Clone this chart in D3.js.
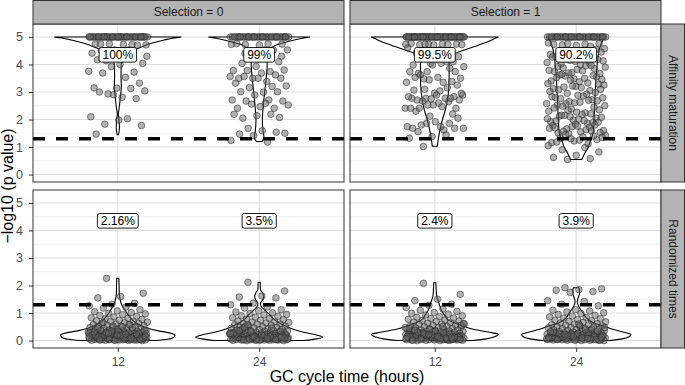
<!DOCTYPE html>
<html>
<head>
<meta charset="utf-8">
<script src="https://d3js.org/d3.v7.min.js"></script>
<style>
  body { margin: 0; background: #fff; }
  text { font-family: "Liberation Sans", Arial, Helvetica, sans-serif; }
</style>
</head>
<body>
<script>
// ---- data ----
const times = ["12", "24"];
const selections = ["Selection = 0", "Selection = 1"];
const rowNames = ["Affinity maturation", "Randomized times"];
const yTicks = [0, 1, 2, 3, 4, 5];
const cutoff = 1.30103;   // -log10(0.05)
const labelAt = 4.35;

// percent labels [selection][time]
const pctAffinity = [["100%", "99%"], ["99.5%", "90.2%"]];
const pctRandom = [["2.16%", "3.5%"], ["2.4%", "3.9%"]];

// -log10(p value), capped at 5
const am0_12 = [5,5,5,5,5,5,5,5,5,5,5,5,5,5,5,5,5,5,5,5,5,5,5,5,5,5,5,5,5,5,5,5,5,5,5,5,5,5,5,5,5,5,5,5,5,
  4.74,4.72,4.75,4.71,4.73,4.74,4.70,4.53,4.41,4.53,4.14,4.04,4.00,4.17,3.72,3.93,3.75,3.53,3.69,3.32,
  3.14,3.15,3.13,2.93,3.04,2.81,3.00,2.76,2.90,2.10,2.03,1.83,1.78,1.98,1.47,4.45,4.38,4.30,4.25,4.50];
const am0_24 = [5,5,5,5,5,5,5,5,5,5,5,5,5,5,5,5,5,5,5,5,5,5,5,5,5,5,5,5,5,5,5,5,5,5,5,5,5,5,5,5,
  4.73,4.75,4.72,4.74,4.71,4.76,4.53,4.41,4.53,4.53,4.04,4.10,3.93,3.78,3.74,3.78,3.80,3.69,3.50,3.62,
  3.50,3.56,3.38,3.56,3.50,3.50,3.32,3.20,3.16,3.22,2.99,3.01,3.01,2.89,2.71,2.71,2.67,2.67,2.47,2.41,
  2.41,2.56,2.53,2.59,2.05,2.07,2.14,2.19,2.19,1.68,1.50,1.59,1.47,1.54,1.42,1.24,1.18,4.40,4.30,4.20];
const am1_12 = [5,5,5,5,5,5,5,5,5,5,5,5,5,5,5,5,5,5,5,5,5,5,5,5,5,5,5,5,5,5,
  5,5,5,5,5,5,5,5,5,5,5,5,5,5,5,5,5,5,5,5,5,5,5,5,5,5,5,5,5,5,
  4.74,4.73,4.75,4.72,4.74,4.71,4.76,4.73,4.74,4.72,4.53,4.41,4.10,4.04,4.60,4.48,4.35,4.28,4.20,
  3.98,3.86,3.74,3.92,4.04,3.68,3.74,3.98,3.74,4.10,3.48,3.50,3.53,3.53,3.38,3.44,3.35,3.35,3.62,3.25,
  2.96,2.77,2.65,2.77,2.89,3.04,2.71,2.83,2.75,2.83,2.77,2.67,2.71,2.89,3.07,2.77,2.53,2.41,2.47,2.41,
  2.41,2.53,2.41,3.15,3.10,2.95,2.60,2.30,2.20,2.12,1.74,1.62,1.80,2.05,1.92,1.68,1.86,1.86,1.68,1.74,
  1.56,1.68,1.38,1.32,1.44,1.02];
const am1_24 = [5,5,5,5,5,5,5,5,5,5,5,5,5,5,5,5,5,5,5,5,5,5,5,5,5,5,5,5,5,5,5,5,5,5,5,5,5,5,5,5,
  4.78,4.74,4.71,4.76,4.69,4.73,4.66,4.75,4.58,4.52,4.47,4.55,4.41,4.36,4.50,4.33,4.45,4.39,
  4.28,4.22,4.15,4.07,4.25,4.02,4.18,4.11,4.27,4.05,4.20,4.13,
  3.98,3.92,3.85,3.70,3.79,3.95,3.88,3.67,3.82,3.74,3.96,3.69,3.90,3.77,
  3.62,3.55,3.48,3.40,3.33,3.58,3.45,3.37,3.52,3.60,3.43,3.31,3.50,3.64,
  3.28,3.20,3.12,3.05,2.95,3.25,3.16,3.08,2.98,3.22,3.02,2.92,3.18,3.10,
  2.88,2.80,2.72,2.65,2.58,2.85,2.76,2.68,2.61,2.83,2.70,2.57,2.79,2.63,
  2.52,2.45,2.38,2.30,2.24,2.48,2.35,2.27,2.42,2.21,2.33,2.50,
  2.18,2.12,2.05,1.98,1.92,1.87,2.15,2.08,2.01,1.95,1.89,2.10,2.03,1.96,2.16,1.90,
  1.83,1.78,1.72,1.66,1.60,1.55,1.51,1.80,1.74,1.68,1.63,1.57,1.53,1.76,1.70,1.59,
  1.48,1.42,1.37,1.32,1.27,1.22,1.16,1.12,1.45,1.35,1.25,1.18,1.40,1.30,
  1.05,0.98,0.90,0.82,0.70,0.62,0.58,0.55];

const rt0_12 = [2.26,1.72,1.60,1.55,1.35,1.32,1.26,1.22,1.18,1.12,1.08,1.05,1.02,0.99,0.97,0.94,
  0.91,0.88,0.86,0.83,0.81,0.79,0.77,0.74,0.72,0.70,0.69,0.67,0.65,0.63,0.62,0.60,
  0.58,0.57,0.55,0.54,0.52,0.51,0.49,0.48,0.47,0.45,0.44,0.43,0.42,0.40,0.39,0.38,
  0.37,0.36,0.35,0.34,0.33,0.32,0.31,0.30,0.30,0.29,0.28,0.27,0.26,0.26,0.25,0.24,
  0.23,0.23,0.22,0.21,0.21,0.20,0.19,0.19,0.18,0.17,0.17,0.16,0.16,0.15,0.14,0.14,
  0.13,0.13,0.12,0.12,0.11,0.11,0.10,0.10,0.09,0.09,0.08,0.08,0.07,0.07,0.06,0.06,
  0.05,0.05,0.05,0.04,0.04,0.04,0.03,0.03,0.03,0.02,0.02,0.02,0.01,0.01,0.01,0.00,
  0.02,0.08,0.15,0.22,0.31,0.05,0.12,0.27,0.41,0.18,0.03,0.09,0.36,0.24,0.14,0.07,
  0.53,0.29,0.11,0.20,0.04,0.33,0.16,0.46,0.06,0.25,0.10,0.38,0.13,0.01,0.21,0.58,
  0.28,0.08,0.17,0.44,0.02,0.35,0.12,0.23,0.66,0.05,0.19,0.31,0.09,0.27,0.14,0.50,0.03,0.22];
const rt0_24 = [2.12,1.80,1.62,1.58,1.55,1.36,1.30,1.22,1.18,1.12,1.08,1.04,1.01,0.98,0.95,0.93,
  0.90,0.88,0.85,0.83,0.80,0.78,0.76,0.74,0.71,0.69,0.67,0.66,0.64,0.62,0.60,0.59,
  0.57,0.55,0.54,0.52,0.50,0.49,0.47,0.46,0.45,0.43,0.42,0.41,0.40,0.38,0.37,0.36,
  0.35,0.34,0.33,0.32,0.31,0.30,0.29,0.28,0.27,0.27,0.26,0.25,0.24,0.24,0.23,0.22,
  0.22,0.21,0.20,0.20,0.19,0.18,0.18,0.17,0.16,0.16,0.15,0.15,0.14,0.13,0.13,0.12,
  0.12,0.11,0.11,0.10,0.10,0.09,0.09,0.08,0.08,0.08,0.07,0.07,0.06,0.06,0.06,0.05,
  0.05,0.05,0.04,0.04,0.04,0.03,0.03,0.03,0.02,0.02,0.02,0.01,0.01,0.01,0.00,0.00,
  0.04,0.11,0.19,0.07,0.26,0.14,0.02,0.33,0.09,0.17,0.45,0.05,0.22,0.12,0.38,0.03,
  0.15,0.28,0.08,0.52,0.18,0.01,0.24,0.10,0.31,0.06,0.20,0.41,0.13,0.03,0.27,0.16,
  0.57,0.09,0.21,0.35,0.04,0.14,0.25,0.07,0.48,0.11];
const rt1_12 = [2.08,1.68,1.50,1.45,1.32,1.28,1.20,1.15,1.10,1.06,1.02,0.99,0.96,0.93,0.90,0.87,
  0.85,0.82,0.80,0.77,0.75,0.73,0.71,0.69,0.67,0.65,0.63,0.61,0.60,0.58,0.56,0.55,
  0.53,0.52,0.50,0.48,0.47,0.46,0.44,0.43,0.42,0.41,0.39,0.38,0.37,0.36,0.35,0.34,
  0.33,0.32,0.31,0.30,0.29,0.28,0.28,0.27,0.26,0.25,0.24,0.24,0.23,0.22,0.21,0.21,
  0.20,0.19,0.19,0.18,0.17,0.17,0.16,0.15,0.15,0.14,0.14,0.13,0.12,0.12,0.11,0.11,
  0.10,0.10,0.09,0.09,0.08,0.08,0.07,0.07,0.06,0.06,0.05,0.05,0.05,0.04,0.04,0.03,
  0.03,0.03,0.02,0.02,0.02,0.01,0.01,0.01,0.00,0.00,
  0.06,0.13,0.21,0.04,0.29,0.16,0.09,0.36,0.02,0.18,0.47,0.11,0.25,0.07,0.32,0.14,
  0.03,0.22,0.56,0.10,0.19,0.05,0.40,0.15,0.27,0.08,0.12,0.34,0.01,0.23,0.17,0.62,
  0.06,0.30,0.13,0.20,0.44,0.09,0.26,0.04,0.16,0.38,0.11,0.21,0.07,0.51];
const rt1_24 = [1.92,1.88,1.85,1.83,1.78,1.75,1.45,1.42,1.32,1.26,1.12,1.10,1.07,1.04,1.01,0.98,
  0.95,0.92,0.89,0.86,0.84,0.81,0.79,0.76,0.74,0.72,0.70,0.68,0.66,0.64,0.62,0.60,
  0.58,0.57,0.55,0.53,0.52,0.50,0.49,0.47,0.46,0.44,0.43,0.42,0.40,0.39,0.38,0.37,
  0.36,0.35,0.33,0.32,0.31,0.30,0.29,0.28,0.27,0.27,0.26,0.25,0.24,0.23,0.23,0.22,
  0.21,0.20,0.20,0.19,0.18,0.18,0.17,0.16,0.16,0.15,0.14,0.14,0.13,0.13,0.12,0.11,
  0.11,0.10,0.10,0.09,0.09,0.08,0.08,0.07,0.07,0.06,0.06,0.05,0.05,0.04,0.04,0.04,
  0.03,0.03,0.02,0.02,0.02,0.01,0.01,0.00,0.00,
  0.05,0.12,0.20,0.08,0.31,0.15,0.03,0.26,0.10,0.42,0.18,0.06,0.23,0.14,0.35,0.02,
  0.11,0.28,0.07,0.19,0.54,0.04,0.16,0.24,0.09,0.39,0.13,0.01,0.21,0.30,0.06,0.17,
  0.47,0.10,0.25,0.03,0.14,0.33,0.08,0.22,0.12,0.60];

// violin outlines: [value, relative density] (1 = widest violin)
const vAm0_12 = [[1.45,0.01],[1.7,0.025],[2.0,0.018],[2.2,0.008],[2.4,0.02],[2.8,0.04],[3.2,0.055],[3.6,0.05],
  [4.0,0.055],[4.29,0.08],[4.44,0.16],[4.59,0.32],[4.77,0.53],[4.89,0.73],[4.96,0.88],[5.0,1.0]];
const vAm0_24 = [[1.2,0.045],[1.35,0.075],[1.6,0.06],[2.0,0.05],[2.5,0.065],[3.0,0.086],[3.5,0.11],[4.0,0.125],
  [4.36,0.12],[4.54,0.16],[4.7,0.26],[4.84,0.47],[4.95,0.68],[5.0,0.8]];
const vAm1_12 = [[1.03,0.04],[1.3,0.055],[1.69,0.087],[2.0,0.12],[2.3,0.16],[2.9,0.21],[3.5,0.225],[4.11,0.225],
  [4.36,0.28],[4.5,0.43],[4.66,0.64],[4.84,0.85],[4.95,0.95],[5.0,1.0]];
const vAm1_24 = [[0.55,0.09],[0.8,0.14],[1.0,0.19],[1.2,0.22],[1.5,0.265],[2.0,0.28],[3.0,0.3],[4.0,0.33],
  [4.5,0.36],[4.8,0.4],[5.0,0.45]];
const vRt0_12 = [[0.0,0.59],[0.05,0.78],[0.12,0.88],[0.2,0.9],[0.28,0.81],[0.36,0.62],[0.45,0.47],[0.55,0.36],
  [0.7,0.25],[0.85,0.19],[1.0,0.14],[1.15,0.1],[1.3,0.06],[1.45,0.04],[1.7,0.023],[2.0,0.02],[2.26,0.016]];
const vRt0_24 = [[0.0,0.7],[0.06,0.9],[0.12,1.0],[0.2,0.9],[0.3,0.7],[0.4,0.55],[0.5,0.44],[0.65,0.31],
  [0.8,0.22],[0.95,0.16],[1.1,0.09],[1.25,0.03],[1.35,0.02],[1.5,0.06],[1.6,0.07],[1.75,0.05],[1.85,0.02],[2.12,0.016]];
const vRt1_12 = [[0.0,0.58],[0.06,0.81],[0.14,0.94],[0.22,1.0],[0.3,0.86],[0.4,0.62],[0.52,0.45],[0.65,0.3],
  [0.76,0.2],[0.9,0.16],[1.07,0.11],[1.25,0.08],[1.43,0.055],[1.6,0.03],[1.8,0.023],[2.1,0.016]];
const vRt1_24 = [[0.0,0.52],[0.06,0.72],[0.14,0.83],[0.22,0.86],[0.3,0.75],[0.4,0.59],[0.52,0.44],[0.65,0.27],
  [0.8,0.17],[1.0,0.11],[1.2,0.05],[1.4,0.016],[1.55,0.03],[1.7,0.052],[1.85,0.052],[1.92,0.04]];

// [row][selection][time]
const values = [[[am0_12, am0_24], [am1_12, am1_24]], [[rt0_12, rt0_24], [rt1_12, rt1_24]]];
const violins = [[[vAm0_12, vAm0_24], [vAm1_12, vAm1_24]], [[vRt0_12, vRt0_24], [vRt1_12, vRt1_24]]];
const labels = [pctAffinity, pctRandom];

// ---- layout ----
const width = 685, height = 385;
const colLeft = [33, 350], panelW = 311;
const rowTop = [24, 190], panelH = 158;
const stripW = 24, stripH = 24;
const jitterW = 0.21;

const svg = d3.select("body").append("svg")
  .attr("width", width).attr("height", height);

// deterministic spread for the jitter (golden ratio steps)
const jit = i => ((i * 0.6180339887 + 0.31) % 1) * 2 - 1;

rowNames.forEach((rowName, r) => {
  selections.forEach((sel, c) => {
    const x0 = colLeft[c], y0 = rowTop[r];
    const x = d3.scalePoint().domain(times).range([x0, x0 + panelW]).padding(0.6);
    const y = d3.scaleLinear().domain([-0.27, 5.47]).range([y0 + panelH, y0]);
    const g = svg.append("g");

    g.append("rect").attr("x", x0).attr("y", y0).attr("width", panelW).attr("height", panelH)
      .attr("fill", "#fff");

    // grid
    const minor = yTicks.slice(0, -1).map(v => v + 0.5);
    g.selectAll(".gmin").data(minor).join("line")
      .attr("x1", x0).attr("x2", x0 + panelW)
      .attr("y1", d => y(d)).attr("y2", d => y(d))
      .attr("stroke", "#e8e8e8").attr("stroke-width", 0.6);
    g.selectAll(".gmaj").data(yTicks).join("line")
      .attr("x1", x0).attr("x2", x0 + panelW)
      .attr("y1", d => y(d)).attr("y2", d => y(d))
      .attr("stroke", "#dedede").attr("stroke-width", 1.1);
    g.selectAll(".gx").data(times).join("line")
      .attr("x1", d => x(d)).attr("x2", d => x(d))
      .attr("y1", y0).attr("y2", y0 + panelH)
      .attr("stroke", "#dedede").attr("stroke-width", 1.1);

    const maxHalf = 0.45 * x.step();

    times.forEach((t, k) => {
      const cx = x(t);
      const area = d3.area()
        .y(d => y(d[0]))
        .x0(d => cx - d[1] * maxHalf)
        .x1(d => cx + d[1] * maxHalf)
        .curve(d3.curveMonotoneY);
      g.append("path").datum(violins[r][c][k])
        .attr("d", area)
        .attr("fill", "#fff").attr("stroke", "#000").attr("stroke-width", 1.1);

      g.append("g").selectAll("circle").data(values[r][c][k]).join("circle")
        .attr("cx", (d, i) => cx + jit(i) * jitterW * x.step())
        .attr("cy", d => y(d))
        .attr("r", 3.3)
        .attr("fill", "#666").attr("fill-opacity", 0.5)
        .attr("stroke", "#222").attr("stroke-opacity", 0.75).attr("stroke-width", 0.7);
    });

    // significance cut-off
    g.append("line")
      .attr("x1", x0).attr("x2", x0 + panelW)
      .attr("y1", y(cutoff)).attr("y2", y(cutoff))
      .attr("stroke", "#000").attr("stroke-width", 3.3).attr("stroke-dasharray", "12,11");

    // percent labels
    times.forEach((t, k) => {
      const lg = g.append("g").attr("transform", `translate(${x(t)},${y(labelAt)})`);
      const txt = lg.append("text").attr("text-anchor", "middle").attr("dy", "0.36em")
        .style("font-size", "12px").attr("fill", "#000").text(labels[r][c][k]);
      const w = txt.node().getComputedTextLength();
      lg.insert("rect", "text")
        .attr("x", -w / 2 - 3.4).attr("y", -7.3).attr("width", w + 6.8).attr("height", 14.6)
        .attr("rx", 2.2).attr("fill", "#fff").attr("stroke", "#000").attr("stroke-width", 0.9);
    });

    // border
    g.append("rect").attr("x", x0).attr("y", y0).attr("width", panelW).attr("height", panelH)
      .attr("fill", "none").attr("stroke", "#333").attr("stroke-width", 1);

    // axes
    if (c === 0) {
      const ya = g.append("g").attr("transform", `translate(${x0},0)`)
        .call(d3.axisLeft(y).tickValues(yTicks).tickFormat(d3.format("d")).tickSize(4).tickPadding(6));
      ya.select(".domain").remove();
      ya.selectAll("line").attr("stroke", "#333");
      ya.selectAll("text").style("font-size", "12.5px").attr("fill", "#4d4d4d")
        .style("font-family", '"Liberation Sans", Arial, sans-serif');
    }
    if (r === 1) {
      const xa = g.append("g").attr("transform", `translate(0,${y0 + panelH})`)
        .call(d3.axisBottom(x).tickSize(4).tickPadding(5));
      xa.select(".domain").remove();
      xa.selectAll("line").attr("stroke", "#333");
      xa.selectAll("text").style("font-size", "12px").attr("fill", "#4d4d4d")
        .style("font-family", '"Liberation Sans", Arial, sans-serif');
    }
  });
});

// strips
selections.forEach((sel, c) => {
  svg.append("rect").attr("x", colLeft[c]).attr("y", 0.5).attr("width", panelW).attr("height", stripH - 0.5)
    .attr("fill", "#b3b3b3").attr("stroke", "#333").attr("stroke-width", 1);
  svg.append("text").attr("x", colLeft[c] + panelW / 2).attr("y", stripH / 2).attr("dy", "0.36em")
    .attr("text-anchor", "middle").style("font-size", "12px").attr("fill", "#1a1a1a").text(sel);
});
const stripX = colLeft[1] + panelW;
rowNames.forEach((name, r) => {
  svg.append("rect").attr("x", stripX).attr("y", rowTop[r]).attr("width", stripW - 0.5).attr("height", panelH)
    .attr("fill", "#b3b3b3").attr("stroke", "#333").attr("stroke-width", 1);
  svg.append("text")
    .attr("transform", `translate(${stripX + stripW / 2},${rowTop[r] + panelH / 2}) rotate(90)`)
    .attr("dy", "0.36em").attr("text-anchor", "middle").style("font-size", "12px")
    .attr("fill", "#1a1a1a").text(name);
});

// axis titles
svg.append("text").attr("x", (colLeft[0] + stripX) / 2).attr("y", 382)
  .attr("text-anchor", "middle").style("font-size", "16px").attr("fill", "#000")
  .text("GC cycle time (hours)");
svg.append("text")
  .attr("transform", `translate(13,${(rowTop[0] + rowTop[1] + panelH) / 2}) rotate(-90)`)
  .attr("text-anchor", "middle").style("font-size", "16px").attr("fill", "#000")
  .text("\u2212log10 (p value)");
</script>
</body>
</html>
